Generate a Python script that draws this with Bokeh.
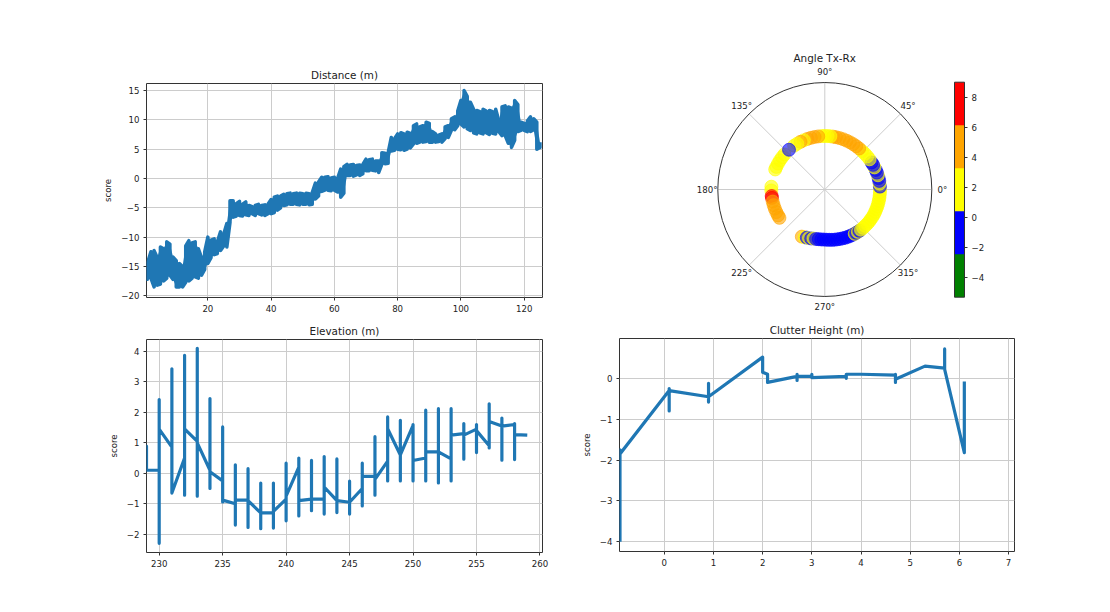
import numpy as np
from bokeh.plotting import figure
from bokeh.layouts import column, row
from bokeh.models import (Range1d, SingleIntervalTicker, FixedTicker, LinearColorMapper,
                          ColorBar, CustomJSTickFormatter, ColumnDataSource)
from bokeh.core.properties import value
from bokeh.embed import file_html
from bokeh.resources import INLINE

FONT = "DejaVu Sans"
LINE_BLUE = "#1f77b4"
TXT = "#222222"

# ---------------- Distance (m) : band of score per distance step ----------------
DIST_X = [0.7] + list(range(2, 126))
DIST_LO = [-17.5, -17.0, -18.5, -18.2, -18.0, -17.5, -17.0, -16.5, -17.2, -18.5,
           -18.5, -18.5, -17.7, -17.5, -17.0, -16.8, -17.0, -16.5, -15.5, -14.5,
           -13.5, -13.0, -12.8, -12.3, -11.5, -11.7, -7.5, -6.6, -6.4, -6.3,
           -6.4, -6.2, -6.3, -6.0, -6.3, -6.0, -6.2, -6.3, -6.0, -6.0,
           -5.8, -5.4, -5.0, -4.6, -4.5, -4.4, -4.4, -4.4, -4.5, -4.4,
           -4.4, -4.5, -4.4, -3.5, -3.0, -2.2, -2.0, -2.0, -2.1, -2.0,
           -2.3, -3.2, -2.5, 0.5, 0.5, 0.4, 0.6, 0.5, 0.8, 1.3,
           1.3, 1.4, 1.3, 1.0, 2.4, 2.5, 2.6, 4.7, 4.8, 5.0,
           4.9, 4.8, 5.0, 5.2, 5.9, 6.0, 6.2, 6.2, 6.3, 6.2,
           6.2, 6.2, 6.3, 6.2, 6.8, 7.0, 8.2, 8.3, 9.0, 9.3,
           8.8, 8.5, 8.2, 7.8, 7.6, 7.8, 7.6, 7.8, 7.5, 7.7,
           7.6, 8.0, 7.3, 7.3, 6.0, 5.3, 6.5, 8.0, 8.2, 8.2,
           8.0, 8.0, 8.3, 5.0, 5.3]
DIST_HI = [-14.8, -12.5, -12.3, -13.5, -11.7, -12.0, -10.8, -11.2, -13.4, -14.0,
           -14.5, -15.0, -11.5, -10.6, -11.0, -10.8, -12.0, -13.5, -12.5, -10.0,
           -10.5, -10.3, -10.8, -9.1, -9.5, -7.7, -3.8, -3.8, -4.3, -3.9,
           -4.4, -4.0, -4.6, -4.8, -4.6, -4.4, -4.6, -4.5, -4.4, -3.6,
           -3.2, -3.0, -3.0, -2.7, -2.6, -2.5, -2.6, -2.5, -2.5, -2.6,
           -2.5, -2.6, -2.4, -0.8, -0.6, 0.2, 0.2, 0.3, 0.1, 0.2,
           0.0, 1.6, 2.0, 2.4, 2.3, 2.4, 2.2, 2.3, 2.4, 3.3,
           3.2, 3.3, 3.0, 3.0, 4.4, 4.3, 4.4, 7.0, 6.8, 7.6,
           7.8, 7.6, 7.9, 7.7, 9.0, 9.3, 8.8, 9.0, 9.6, 9.4,
           8.0, 7.6, 7.4, 7.6, 8.8, 9.0, 10.2, 10.5, 11.5, 13.3,
           15.0, 14.0, 13.0, 11.8, 11.6, 11.4, 11.8, 11.5, 11.6, 11.4,
           11.8, 9.8, 12.2, 12.4, 12.2, 12.0, 13.3, 12.6, 9.6, 9.4,
           9.8, 10.5, 10.2, 9.6, 6.2]

# ---------------- Angle Tx-Rx : polar scatter ----------------
POLAR_DEG = [244, 247, 249.5, 252, 254.5, 257,
             260, 263, 266, 269, 272, 275, 278, 281, 284, 287, 290, 293, 296, 299,
             302, 304, 306, 308, 310, 312, 315, 318,
             321, 324, 327, 330, 333, 336, 339, 342, 345, 348, 351, 354, 357,
             0, 3, 6, 9, 12, 15, 18, 21, 24, 27, 30,
             34, 38, 42, 46,
             50, 54, 58, 62, 66, 70, 74, 78, 81,
             84, 87, 90, 93,
             97, 101, 105, 109,
             113, 117, 121, 125,
             139, 143, 147, 151, 155, 158,
             177, 181, 187, 189,
             193, 197, 201, 205, 209, 212,
             132]
POLAR_VAL = [5.0, 2.0, -1.0, 2.0, -1.2, 1.5,
             -1.5, -1.2, -1.8, -1.0, -1.5, -2.0, -1.3, -1.6, -1.1, -1.7, -1.4, -1.0, -1.8, -1.2,
             -0.8, 2.0, -1.0, 1.8, -0.5, 2.2, 1.5, 2.0,
             1.5, 2.2, 1.8, 2.5, 1.6, 2.0, 2.3, 1.7, 2.1, 2.4, 1.9, 2.2, 1.6,
             2.0, -1.0, 1.8, -1.2, -0.8, 2.0, -1.0, -1.5, 1.5, -1.0, -0.6,
             2.0, 2.5, 1.8, 2.2,
             4.5, 5.0, 3.8, 4.8, 4.2, 5.2, 4.0, 4.6, 3.5,
             2.0, 2.5, 2.2, 1.8,
             4.8, 4.2, 5.0, 3.6,
             2.4, 4.0, 2.8, 2.0,
             2.0, 2.5, 1.8, 2.2, 2.0, 2.4,
             2.0, 2.2, 7.5, 8.0,
             4.5, 5.0, 4.6, 5.2, 4.8, 5.0,
             -1.0]
POLAR_R = [0.49, 0.485, 0.48, 0.478, 0.475, 0.47,
           0.47, 0.468, 0.468, 0.468, 0.47, 0.472, 0.475, 0.478, 0.48, 0.483, 0.486, 0.49, 0.492, 0.495,
           0.497, 0.5, 0.5, 0.502, 0.504, 0.505, 0.507, 0.508,
           0.51, 0.512, 0.512, 0.514, 0.515, 0.515, 0.515, 0.516, 0.516, 0.516, 0.516, 0.516, 0.516,
           0.516, 0.516, 0.515, 0.515, 0.514, 0.514, 0.512, 0.51, 0.508, 0.507, 0.505,
           0.505, 0.503, 0.502, 0.5,
           0.5, 0.5, 0.5, 0.5, 0.5, 0.5, 0.5, 0.5, 0.5,
           0.5, 0.5, 0.5, 0.5,
           0.5, 0.5, 0.5, 0.5,
           0.5, 0.5, 0.5, 0.5,
           0.5, 0.5, 0.5, 0.5, 0.5, 0.5,
           0.5, 0.5, 0.5, 0.5,
           0.5, 0.5, 0.5, 0.5, 0.5, 0.5,
           0.5]
CBAR_COLORS = ["#008000", "#0000ff", "#ffff00", "#ffa500", "#ff0000"]
CBAR_LOW, CBAR_HIGH = -5.33, 9.04
CBAR_TICKS = [-4, -2, 0, 2, 4, 6, 8]
ANGLE_TICKS = [0, 45, 90, 135, 180, 225, 270, 315]

# ---------------- Elevation (m) ----------------
ELEV_X = list(range(229, 260))
ELEV_IN = [0.89, 0.1, 0.86, 0.5, 1.05, 0.1, -0.25, -1.0, -0.88, -1.3,
           -1.3, -0.85, 0.2, -0.85, -0.85, -0.9, -0.95, -0.5, -0.1, 0.4,
           0.6, 1.57, 0.5, 0.7, 0.47, 1.3, 1.45, 0.9, 1.55, 1.6, 1.25]
ELEV_LO = [0.1, -2.3, -0.65, -0.72, -0.75, -0.5, -0.94, -1.7, -1.78, -1.82,
           -1.8, -1.56, -1.4, -1.23, -1.34, -1.29, -1.34, -1.07, -0.72, -0.25,
           -0.25, -0.25, -0.25, -0.32, -0.25, 0.46, 0.68, 0.83, 0.43, 0.45, 1.25]
ELEV_HI = [0.89, 2.42, 3.43, 3.87, 4.1, 2.45, 1.52, 0.28, 0.15, -0.32,
           -0.32, 0.33, 0.5, 0.42, 0.55, 0.47, -0.26, 0.33, 1.2, 1.85,
           1.74, 1.6, 2.07, 2.12, 2.12, 1.63, 1.6, 2.28, 1.81, 1.63, 1.25]
ELEV_OUT = [0.1, 1.45, -0.65, 1.46, 1.0, 0.05, -0.88, -0.88, -0.9, -1.3,
            -1.25, -0.75, -0.9, -0.85, -0.45, -0.9, -0.95, -0.1, -0.2, 1.46,
            0.6, 0.42, 0.7, 0.7, 1.25, 1.25, 1.4, 1.7, 1.55, 1.27, 1.25]

# ---------------- Clutter Height (m) ----------------
CLUTTER_X = [-0.9, -0.9, -0.9, 0.1, 0.1, 0.1, 0.1, 0.9, 0.9, 0.9, 0.9, 2.0, 2.0,
             2.1, 2.1, 2.7, 2.7, 2.7, 2.7, 3.0, 3.0, 3.0, 3.7, 3.7, 3.7, 4.0,
             4.7, 4.7, 4.7, 4.7, 5.3, 5.7, 5.7, 5.7, 6.1, 6.1]
CLUTTER_Y = [-4.0, -1.75, -1.85, -0.3, -0.8, -0.25, -0.3, -0.45, -0.58, -0.12, -0.45, 0.52, 0.15,
             0.1, -0.1, 0.05, -0.05, 0.1, 0.05, 0.05, 0.1, 0.02, 0.05, 0.0, 0.1, 0.1,
             0.08, -0.1, 0.1, -0.02, 0.3, 0.25, 0.72, 0.22, -1.82, -0.08]


def minus_fmt():
    return CustomJSTickFormatter(code="return (tick < 0 ? '\u2212' : '') + Math.abs(tick);")


def style_title(p):
    p.title.text_font = FONT
    p.title.text_font_size = "10.4px"
    p.title.text_font_style = "normal"
    p.title.align = "center"
    p.title.text_color = TXT
    p.title.standoff = 5


def style_cart(p, xint, yint):
    style_title(p)
    p.outline_line_color = "#333333"
    p.outline_line_width = 1
    p.outline_line_alpha = 1
    p.background_fill_color = "white"
    p.border_fill_color = "white"
    p.xaxis.ticker = SingleIntervalTicker(interval=xint)
    p.yaxis.ticker = SingleIntervalTicker(interval=yint)
    for ax in (p.xaxis[0], p.yaxis[0]):
        ax.axis_line_color = None
        ax.minor_tick_line_color = None
        ax.major_tick_in = 0
        ax.major_tick_out = 3
        ax.major_tick_line_color = "#333333"
        ax.major_label_text_font = FONT
        ax.major_label_text_font_size = "8.6px"
        ax.major_label_text_color = TXT
        ax.major_label_standoff = 3
        ax.formatter = minus_fmt()
    p.yaxis.axis_label = "score"
    p.yaxis.axis_label_text_font = FONT
    p.yaxis.axis_label_text_font_size = "8.6px"
    p.yaxis.axis_label_text_font_style = "normal"
    p.yaxis.axis_label_text_color = TXT
    p.yaxis.axis_label_standoff = 5
    p.grid.grid_line_color = "#cccccc"
    p.grid.grid_line_width = 1


# ---- panel 1: Distance
p1 = figure(width=560, height=315, title="Distance (m)",
            x_range=Range1d(0.6, 125.8), y_range=Range1d(-20.3, 16.2),
            min_border_left=146, min_border_right=18, min_border_top=83, min_border_bottom=18,
            toolbar_location=None, output_backend="svg")
style_cart(p1, 20, 5)
p1.varea(x=DIST_X, y1=DIST_LO, y2=DIST_HI, fill_color=LINE_BLUE)
dx, dy = [], []
for i, (x, lo, hi) in enumerate(zip(DIST_X, DIST_LO, DIST_HI)):
    dx += [x, x]
    dy += [lo, hi] if i % 2 == 0 else [hi, lo]
p1.line(dx, dy, line_color=LINE_BLUE, line_width=3.5, line_join="round")

# ---- panel 2: polar (frame shares left/right borders with panel 4)
R_PX = 107.0
CX, CY = 824.3, 189.0
FL, FR, FT, FB = 619.0, 1014.0, 66.0, 315.0
p2 = figure(width=550, height=315, title="Angle Tx-Rx",
            x_range=Range1d((FL - CX) / R_PX, (FR - CX) / R_PX),
            y_range=Range1d((CY - FB) / R_PX, (CY - FT) / R_PX),
            min_border_left=59, min_border_right=96, min_border_top=66, min_border_bottom=0,
            x_axis_location=None, y_axis_location=None,
            toolbar_location=None, output_backend="svg")
style_title(p2)
p2.title.align = "left"
p2.title.offset = 174
p2.outline_line_color = None
p2.grid.visible = False
th = np.deg2rad(ANGLE_TICKS)
p2.segment(x0=0, y0=0, x1=np.cos(th), y1=np.sin(th), line_color="#cccccc", line_width=1)
p2.ellipse(x=0, y=0, width=2, height=2, fill_color=None, line_color="#333333", line_width=1)
lab_r = 1.1
p2.text(x=lab_r * np.cos(th), y=lab_r * np.sin(th), text=[f"{a}\u00b0" for a in ANGLE_TICKS],
        text_align="center", text_baseline="middle", text_font=value(FONT),
        text_font_size="8.6px", text_color=TXT)
mapper = LinearColorMapper(palette=CBAR_COLORS, low=CBAR_LOW, high=CBAR_HIGH)
pr = np.array(POLAR_R)
pt = np.deg2rad(POLAR_DEG)
src = ColumnDataSource(dict(x=pr * np.cos(pt), y=pr * np.sin(pt), v=POLAR_VAL))
p2.scatter("x", "y", source=src, size=13,
           fill_color={"field": "v", "transform": mapper},
           line_color={"field": "v", "transform": mapper},
           fill_alpha=0.6, line_alpha=0.6)
cb = ColorBar(color_mapper=mapper, ticker=FixedTicker(ticks=CBAR_TICKS), formatter=minus_fmt(),
              location=(954 - FL, FB - 296.7), width=10, height=215, padding=0,
              major_label_text_font=FONT, major_label_text_font_size="8.6px",
              major_label_text_color=TXT, major_tick_in=0, major_tick_out=3,
              major_tick_line_color="#333333", bar_line_color="#333333",
              border_line_color=None, background_fill_color=None, label_standoff=4)
p2.add_layout(cb, "center")

# ---- panel 3: Elevation
p3 = figure(width=560, height=297, title="Elevation (m)",
            x_range=Range1d(229, 260.2), y_range=Range1d(-2.6, 4.39),
            min_border_left=146, min_border_right=18, min_border_top=24, min_border_bottom=60,
            toolbar_location=None, output_backend="svg")
style_cart(p3, 5, 1)
ex, ey = [], []
for x, a, lo, hi, b in zip(ELEV_X, ELEV_IN, ELEV_LO, ELEV_HI, ELEV_OUT):
    ex += [x, x, x, x]
    ey += [a, lo, hi, b]
p3.line(ex, ey, line_color=LINE_BLUE, line_width=3.2, line_join="round")

# ---- panel 4: Clutter height
p4 = figure(width=550, height=297, title="Clutter Height (m)",
            x_range=Range1d(-0.91, 7.12), y_range=Range1d(-4.24, 0.976),
            min_border_left=59, min_border_right=96, min_border_top=23, min_border_bottom=61,
            toolbar_location=None, output_backend="svg")
style_cart(p4, 1, 1)
p4.line(CLUTTER_X, CLUTTER_Y, line_color=LINE_BLUE, line_width=3.2, line_join="round")

layout = row(column(p1, p3), column(p2, p4))
open("out.html", "w").write(file_html(layout, INLINE))
